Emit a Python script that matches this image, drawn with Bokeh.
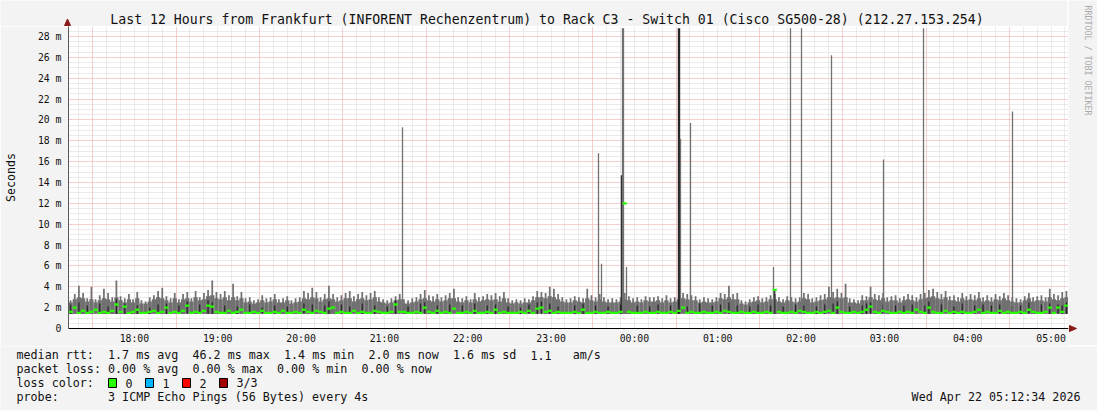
import re
import numpy as np
import pandas as pd
from bokeh.plotting import figure
from bokeh.layouts import column, row
from bokeh.models import (FixedTicker, Grid, Range1d, ColumnDataSource,
                          DatetimeTickFormatter)
from bokeh.core.properties import value
from bokeh.embed import file_html
from bokeh.resources import INLINE

# ------------------------------------------------------------------ data
window_start = "2026-04-21 17:12:34"
window_end = "2026-04-22 05:12:34"
step_seconds = 180  # one value per 3 minutes, 240 steps

smoke_min = [
    1.40,1.38,1.41,1.40,1.39,1.40,1.42,1.38,1.40,1.41,1.39,1.40,1.38,1.40,1.41,1.39,1.40,1.42,1.38,1.40,
    1.41,1.39,1.40,1.38,1.40,1.42,1.39,1.40,1.41,1.38,1.40,1.39,1.41,1.40,1.38,1.40,1.42,1.39,1.40,1.41,
    1.39,1.40,1.41,1.38,1.40,1.39,1.42,1.40,1.38,1.41,1.40,1.39,1.40,1.42,1.38,1.40,1.41,1.39,1.40,1.38,
    1.40,1.42,1.39,1.40,1.38,1.41,1.40,1.39,1.42,1.40,1.38,1.40,1.41,1.39,1.40,1.38,1.42,1.40,1.39,1.41,
    1.38,1.40,1.41,1.39,1.40,1.42,1.38,1.40,1.39,1.41,1.40,1.38,1.42,1.40,1.39,1.40,1.41,1.38,1.40,1.39,
    1.41,1.39,1.40,1.42,1.38,1.40,1.41,1.39,1.40,1.38,1.42,1.40,1.39,1.41,1.40,1.38,1.40,1.42,1.39,1.40,
    1.40,1.38,1.42,1.40,1.39,1.41,1.40,1.38,1.40,1.42,1.39,1.40,1.41,1.38,1.40,1.39,1.42,1.40,1.38,1.41,
    1.39,1.41,1.40,1.38,1.42,1.40,1.39,1.41,1.40,1.38,1.40,1.42,1.39,1.40,1.41,1.38,1.40,1.39,1.42,1.40,
    1.42,1.40,1.38,1.41,1.39,1.40,1.42,1.38,1.40,1.39,1.41,1.40,1.38,1.42,1.40,1.39,1.41,1.40,1.38,1.40,
    1.40,1.39,1.41,1.40,1.38,1.42,1.40,1.39,1.41,1.40,1.38,1.40,1.42,1.39,1.40,1.41,1.38,1.40,1.39,1.42,
    1.38,1.41,1.40,1.39,1.42,1.40,1.38,1.41,1.39,1.40,1.42,1.38,1.40,1.41,1.39,1.40,1.38,1.42,1.40,1.39,
    1.41,1.40,1.38,1.42,1.40,1.39,1.41,1.40,1.38,1.40,1.42,1.39,1.40,1.38,1.41,1.40,1.39,1.42,1.40,1.38,
]

smoke_body = [
    2.5,2.8,3.0,2.9,2.6,2.8,2.5,2.7,2.9,2.8,2.6,3.0,2.7,2.5,2.8,2.5,2.9,2.4,2.4,2.6,
    2.8,3.0,2.9,2.7,2.5,2.9,2.5,2.8,2.9,2.6,3.0,2.7,2.8,3.1,3.2,2.9,2.8,3.0,2.7,3.0,
    2.7,2.9,2.5,2.6,2.4,2.5,2.7,2.5,2.6,2.8,2.5,2.5,2.7,2.4,2.5,2.6,2.9,2.8,3.0,2.9,
    2.6,2.8,2.9,2.8,2.6,2.7,2.9,2.9,2.6,2.8,2.9,2.7,2.8,3.0,2.6,2.5,2.4,2.5,2.7,2.8,
    2.4,2.4,2.5,2.6,2.8,2.9,2.7,2.6,2.8,2.6,2.7,2.9,2.9,2.6,2.5,2.7,2.5,2.8,2.6,2.7,
    2.8,2.7,2.8,2.6,2.9,2.5,2.4,2.5,2.4,2.5,2.5,2.7,3.0,3.0,2.9,3.1,3.0,2.8,2.6,2.5,
    2.5,2.7,2.6,2.5,2.9,2.7,2.6,2.8,2.6,2.5,2.5,2.5,2.6,2.8,2.7,2.5,2.6,2.5,2.7,2.6,
    2.6,2.7,2.5,2.7,2.5,2.6,2.8,2.9,2.8,2.7,2.7,2.5,2.6,2.5,2.5,2.6,2.9,2.8,3.0,2.8,
    2.8,2.4,2.3,2.5,2.6,2.7,2.5,2.6,2.8,2.8,2.6,2.5,2.7,2.6,2.5,2.6,2.9,2.8,2.5,2.6,
    2.7,2.8,3.0,2.9,3.0,2.9,3.0,2.5,2.5,2.4,2.7,2.7,3.0,2.8,2.7,2.9,2.6,2.7,2.7,2.5,
    2.7,2.8,2.7,2.6,2.8,2.9,3.0,3.1,2.9,2.8,3.0,2.7,2.7,2.6,2.9,2.7,2.8,2.7,2.9,2.6,
    2.7,2.6,2.8,2.7,2.9,2.7,2.6,2.5,2.5,2.7,2.9,2.6,2.7,2.7,2.6,3.0,2.8,2.7,2.9,3.0,
]

smoke_peak = [
    2.7,3.3,4.1,3.4,2.9,4.0,2.8,3.2,3.8,3.4,3.0,4.6,3.1,2.9,3.3,2.8,3.5,2.7,2.6,3.0,
    3.2,3.6,3.9,3.1,2.9,3.4,2.8,3.3,3.5,2.9,3.6,3.0,3.4,3.7,4.6,3.5,3.3,3.6,3.2,4.3,
    3.1,3.5,2.9,3.0,2.7,2.8,3.2,2.9,3.0,3.3,2.8,2.9,3.1,2.7,2.9,3.0,3.6,3.4,3.9,3.5,
    3.0,3.3,4.1,3.3,3.0,3.2,3.4,3.6,3.1,3.3,3.5,3.2,3.4,3.6,3.0,2.8,2.7,2.9,3.1,3.3,
    2.8,2.7,2.9,3.0,3.3,3.7,3.2,3.1,3.3,3.0,3.2,3.4,3.8,3.0,2.9,3.1,2.8,3.4,3.0,3.1,
    3.3,3.2,3.4,3.1,3.5,2.9,2.7,2.8,2.7,2.9,2.8,3.1,3.6,3.5,3.4,4.0,3.8,3.3,3.0,2.8,
    2.9,3.1,3.0,2.9,3.8,3.2,3.0,3.3,3.0,2.8,2.9,2.8,3.0,3.4,3.1,2.9,3.0,2.8,3.1,3.0,
    3.0,3.1,2.9,3.2,2.9,3.0,3.3,3.4,3.3,3.2,3.1,2.8,3.0,2.9,2.8,3.0,3.4,3.3,4.1,3.3,
    3.4,2.7,2.6,2.8,3.0,3.1,2.9,3.0,3.2,3.3,3.0,2.8,3.1,3.0,2.9,3.0,3.4,3.3,2.9,3.0,
    3.2,3.3,4.0,3.5,3.8,3.4,4.3,2.9,2.8,2.7,3.2,3.1,4.0,3.3,3.2,3.4,3.0,3.1,3.2,2.9,
    3.1,3.3,3.2,3.0,3.3,3.4,3.7,3.8,3.5,3.3,3.6,3.1,3.2,3.0,3.4,3.1,3.3,3.2,3.5,3.0,
    3.2,3.0,3.3,3.1,3.4,3.2,3.0,2.9,2.8,3.1,3.4,3.0,3.1,3.2,3.0,3.8,3.3,3.2,3.5,3.6,
]

smoke_dark = [
    2.3,0,2.5,0,2.2,0,0,2.4,0,2.1,0,2.8,0,2.4,0,0,2.2,0,0,2.0,
    0,2.3,0,2.4,0,0,2.2,0,2.6,0,0,2.3,0,2.7,2.5,0,0,2.2,0,0,
    2.1,0,0,2.3,0,0,2.0,0,0,2.2,0,0,2.1,0,0,0,2.4,0,2.3,0,
    0,2.2,2.6,0,0,2.3,0,2.1,0,0,2.4,0,0,2.2,0,0,2.1,0,2.7,0,
    0,2.1,0,0,2.4,2.5,0,0,2.2,0,0,2.3,0,0,2.2,0,0,2.4,0,0,
    2.2,0,2.3,0,0,2.1,0,0,2.0,0,2.3,0,2.5,2.6,0,2.4,0,2.1,0,0,
    0,2.2,0,2.4,0,0,2.2,0,0,2.1,0,0,2.3,0,0,0,2.2,0,0,2.1,
    0,2.3,0,0,2.2,0,0,0,2.1,0,0,2.4,0,0,2.2,0,2.3,0,2.5,0,
    2.2,0,0,2.1,0,2.3,0,0,2.2,3.7,0,2.1,0,0,2.3,0,2.2,0,0,2.1,
    0,2.3,0,2.4,2.6,0,0,2.1,0,0,2.2,2.4,2.5,0,0,2.3,0,0,2.2,0,
    2.2,0,2.3,0,0,2.2,2.6,0,0,2.3,0,0,2.1,0,2.4,0,0,2.2,0,2.3,
    0,2.2,0,2.3,0,0,2.1,0,2.2,0,2.5,0,0,2.3,0,2.4,0,2.3,2.2,2.5,
]

median_rtt = [
    1.6,2.0,1.5,1.7,1.5,1.6,1.8,1.5,1.6,1.5,1.7,2.3,1.6,2.1,1.5,1.6,1.8,1.5,1.5,1.6,
    1.7,1.5,1.6,2.0,1.5,1.6,1.5,1.7,2.2,1.5,1.6,1.5,1.7,2.2,2.1,1.6,1.5,1.5,1.7,1.5,
    1.6,1.8,1.5,1.5,1.6,1.5,1.7,1.5,1.5,1.6,1.5,1.7,1.5,1.5,1.6,1.5,1.8,1.6,1.5,1.7,
    1.6,1.5,1.9,2.0,1.5,1.6,1.5,1.5,1.7,1.5,1.6,1.5,1.5,1.7,1.6,1.5,1.5,1.6,2.3,1.6,
    1.6,1.5,1.5,1.6,1.5,2.0,1.6,1.5,1.7,1.5,1.6,1.5,1.9,1.5,1.5,1.6,1.5,1.7,1.5,1.5,
    1.6,1.5,1.8,1.5,1.6,1.5,1.5,1.5,1.6,1.5,1.7,1.5,1.9,2.0,1.6,1.7,1.5,1.6,1.5,1.5,
    1.5,1.6,1.5,1.8,1.5,1.5,1.6,1.5,1.5,1.6,1.5,1.5,1.6,12.0,1.6,1.5,1.5,1.5,1.6,1.5,
    1.5,1.6,1.5,1.5,1.6,1.5,1.7,2.0,1.5,1.6,1.5,1.5,1.6,1.5,1.5,1.6,1.5,1.7,1.6,1.5,
    1.5,1.6,1.5,1.5,1.6,1.5,1.5,1.6,1.5,3.7,1.6,1.5,1.5,1.6,1.5,1.7,1.6,1.5,1.5,1.6,
    1.5,1.6,1.7,1.5,2.0,1.6,1.5,1.5,1.6,1.5,1.6,1.8,2.1,1.6,1.5,1.7,1.6,1.5,1.5,1.6,
    1.5,1.6,1.5,1.8,1.6,1.5,2.0,1.6,1.5,1.5,1.7,1.5,1.6,1.5,1.6,1.5,1.5,1.6,1.8,1.5,
    1.6,1.5,1.5,1.7,1.5,1.6,1.5,1.5,1.6,1.5,1.8,1.6,1.5,1.5,1.6,2.0,1.5,2.0,1.6,2.2,
]

# isolated latency spikes
spike_times = [
    "2026-04-21 21:13:03", "2026-04-21 23:34:10", "2026-04-21 23:36:20",
    "2026-04-21 23:51:05", "2026-04-21 23:51:27", "2026-04-21 23:52:10",
    "2026-04-21 23:54:20", "2026-04-22 00:32:08", "2026-04-22 00:33:12",
    "2026-04-22 00:40:24", "2026-04-22 01:40:10", "2026-04-22 01:52:24",
    "2026-04-22 02:00:20", "2026-04-22 02:21:56", "2026-04-22 02:59:22",
    "2026-04-22 03:28:10", "2026-04-22 04:32:15",
]
spike_tops = [19.3, 16.8, 6.2, 14.7, 28.8, 28.8, 5.9, 28.8, 18.2,
              19.7, 5.9, 28.8, 28.8, 26.2, 16.2, 28.8, 20.8]
spike_dark = [False, False, False, True, False, False, False, True, False,
              False, False, False, False, False, False, False, False]

hour_labels = ["18:00", "19:00", "20:00", "21:00", "22:00", "23:00",
               "00:00", "01:00", "02:00", "03:00", "04:00", "05:00"]
y_tick_values = [0, 2, 4, 6, 8, 10, 12, 14, 16, 18, 20, 22, 24, 26, 28]
y_tick_labels = ["0", "2 m", "4 m", "6 m", "8 m", "10 m", "12 m", "14 m",
                 "16 m", "18 m", "20 m", "22 m", "24 m", "26 m", "28 m"]

title_text = ("Last 12 Hours from Frankfurt (INFORENT Rechenzentrum) to Rack C3 - "
              "Switch 01 (Cisco SG500-28) (212.27.153.254)")
y_title = "Seconds"
credit_text = "RRDTOOL / TOBI OETIKER"
median_line = "median rtt:  1.7 ms avg  46.2 ms max  1.4 ms min  2.0 ms now  1.6 ms sd  1.1   am/s"
loss_line = "packet loss: 0.00 % avg  0.00 % max  0.00 % min  0.00 % now"
loss_title = "loss color:"
probe_line = "probe:       3 ICMP Echo Pings (56 Bytes) every 4s"
timestamp_text = "Wed Apr 22 05:12:34 2026"
loss_levels = ["0", "1", "2", "3/3"]
loss_colors = ["#26ff00", "#00b8ff", "#ff0000", "#a00000"]

assert all(len(a) == 240 for a in (smoke_min, smoke_body, smoke_peak, smoke_dark, median_rtt))

# ------------------------------------------------------------------ layout
MONO = "DejaVu Sans Mono"
BG = "#f3f3f3"
ARROW = "#8b1a1a"
TXT = "#111111"
W, H = 1097, 410
FRAME_L, FRAME_T, FRAME_W, FRAME_H = 67, 26, 1000, 302
FRAME_B = FRAME_T + FRAME_H          # 328
MAIN_BOTTOM = 17                      # room for time labels
TOP_H = FRAME_T
MID_H = FRAME_H + MAIN_BOTTOM         # 319
LEFT_W = FRAME_L + FRAME_W            # 1067
Y_MAX = 28.96
CHAR_W = 7.04                         # advance of an 11.7px DejaVu Sans Mono glyph


def ms(ts):
    return pd.Timestamp(ts).value / 1e6


t0, t1 = ms(window_start), ms(window_end)


def pixel_fig(x0, x1, y0, y1):
    """A figure whose frame fills it, in page-pixel coordinates (y down)."""
    f = figure(width=x1 - x0, height=y1 - y0, x_range=Range1d(x0, x1),
               y_range=Range1d(y1, y0), x_axis_type=None, y_axis_type=None,
               output_backend="svg", toolbar_location=None, min_border=0,
               background_fill_color=BG, border_fill_color=BG)
    f.outline_line_color = None
    f.grid.visible = False
    return f


def txt(f, x, y, s, size="11.7px", align="left", color=TXT, angle=0.0, font=MONO):
    f.text(x=[x], y=[y], text=[s], text_font=value(font), text_font_size=value(size),
           text_align=align, text_baseline="middle", text_color=color, angle=angle)


def mono_line(f, x, y, s):
    """Monospace line: runs of several spaces are kept by placing each word group at its column."""
    for m in re.finditer(r"\S+(?: \S+)*", s):
        txt(f, x + m.start() * CHAR_W, y, m.group())


# ---------------- main chart
n = len(median_rtt)
step_ms = step_seconds * 1000
centers = t0 + (np.arange(n) + 0.5) * step_ms

src = ColumnDataSource(dict(
    x=centers, lo=smoke_min, body=smoke_body, peak=smoke_peak,
    med_lo=[m - 0.11 for m in median_rtt], med_hi=[m + 0.11 for m in median_rtt],
))
dark_idx = [i for i, d in enumerate(smoke_dark) if d > 0]
dark_src = ColumnDataSource(dict(
    x=[centers[i] for i in dark_idx], lo=[smoke_min[i] for i in dark_idx],
    hi=[smoke_dark[i] for i in dark_idx]))

sp_x = [ms(t) for t in spike_times]
sp_lo = [smoke_min[min(n - 1, int((x - t0) // step_ms))] for x in sp_x]

p = figure(frame_width=FRAME_W, frame_height=FRAME_H,
           min_border_left=FRAME_L, min_border_top=0,
           min_border_right=0, min_border_bottom=MAIN_BOTTOM,
           x_range=Range1d(t0, t1), y_range=Range1d(0, Y_MAX),
           x_axis_type="datetime", output_backend="svg", toolbar_location=None,
           background_fill_color="white", border_fill_color=BG)
p.outline_line_color = None
p.xgrid.visible = False
p.ygrid.visible = False

ten_min = np.arange(ms("2026-04-21 17:20"), t1, 600000.0)
half_hours = np.arange(ms("2026-04-21 17:30"), t1, 3600000.0)
GRID_GRAY, GRID_RED = "#d6d6d6", "#ffb0b0"
p.add_layout(Grid(dimension=0, ticker=FixedTicker(ticks=list(ten_min)),
                  grid_line_color=GRID_GRAY, grid_line_dash="1 1"))
p.add_layout(Grid(dimension=1, ticker=FixedTicker(ticks=list(np.arange(0.5, 29, 0.5))),
                  grid_line_color=GRID_GRAY, grid_line_dash="1 1"))
p.add_layout(Grid(dimension=0, ticker=FixedTicker(ticks=list(half_hours)),
                  grid_line_color=GRID_RED, grid_line_dash="1 1"))
p.add_layout(Grid(dimension=1, ticker=FixedTicker(ticks=y_tick_values[1:]),
                  grid_line_color=GRID_RED, grid_line_dash="1 1"))

SMOKE = "#717171"
DARK = "#262626"
p.vbar(x="x", width=step_ms * 1.02, bottom="lo", top="body", source=src,
       fill_color=SMOKE, line_color=None)
p.vbar(x="x", width=step_ms * 0.42, bottom="lo", top="peak", source=src,
       fill_color=SMOKE, line_color=None)
p.vbar(x="x", width=step_ms * 0.3, bottom="lo", top="hi", source=dark_src,
       fill_color=DARK, line_color=None)
sp_src = ColumnDataSource(dict(
    x=sp_x, lo=sp_lo, hi=spike_tops,
    color=[DARK if d else SMOKE for d in spike_dark],
    w=[2.4 if d else 1.3 for d in spike_dark]))
p.segment(x0="x", x1="x", y0="lo", y1="hi", line_color="color", line_width="w",
          source=sp_src)
p.vbar(x="x", width=step_ms, bottom="med_lo", top="med_hi", source=src,
       fill_color=loss_colors[0], line_color=None)

hour_ms = [ms(s) for s in pd.date_range("2026-04-21 18:00", periods=len(hour_labels), freq="h")]
p.xaxis.ticker = FixedTicker(ticks=hour_ms)
fmt = "%H:%M"
p.xaxis.formatter = DatetimeTickFormatter(hours=fmt, hourmin=fmt, minutes=fmt, minsec=fmt,
                                          days=fmt, seconds=fmt, milliseconds=fmt)
p.yaxis.ticker = FixedTicker(ticks=y_tick_values)
p.yaxis.major_label_overrides = dict(zip(y_tick_values, y_tick_labels))
for ax in (p.xaxis[0], p.yaxis[0]):
    ax.major_tick_line_color = None
    ax.minor_tick_line_color = None
    ax.major_tick_out = 0
    ax.major_tick_in = 0
    ax.major_label_text_font = MONO
    ax.major_label_text_font_size = "9.8px"
    ax.major_label_text_color = TXT
p.xaxis.axis_line_color = "black"
p.yaxis.axis_line_color = "#5a5a5a"
p.xaxis.major_label_standoff = 4
p.yaxis.major_label_standoff = 7
p.yaxis.axis_label = y_title
p.yaxis.axis_label_text_font = MONO
p.yaxis.axis_label_text_font_size = "11.6px"
p.yaxis.axis_label_text_font_style = "normal"
p.yaxis.axis_label_text_color = TXT
p.yaxis.axis_label_standoff = 17

# ---------------- title strip (above the chart)
top = pixel_fig(0, LEFT_W, 0, TOP_H)
txt(top, 546.5, 19.2, title_text, size="13.2px", align="center")
top.segment(x0=[FRAME_L], x1=[FRAME_L], y0=[21], y1=[TOP_H], line_color="#5a5a5a", line_width=1)
top.patch(x=[FRAME_L - 3, FRAME_L, FRAME_L + 3], y=[25, 18.5, 25], fill_color=ARROW,
          line_color=ARROW)

# ---------------- right strip (credit + x arrow)
strip = pixel_fig(LEFT_W, W, 0, TOP_H + MID_H)
txt(strip, 1086, 60, credit_text, size="8.3px", align="center", color="#aaaaaa",
    angle=-np.pi / 2)
strip.segment(x0=[LEFT_W], x1=[1070], y0=[FRAME_B], y1=[FRAME_B], line_color="black")
strip.patch(x=[1068, 1075, 1068], y=[FRAME_B - 3, FRAME_B, FRAME_B + 3],
            fill_color=ARROW, line_color=ARROW)

# ---------------- legend strip (below)
Y0 = TOP_H + MID_H
bot = pixel_fig(0, W, Y0, H)
rows_y = [353.5, 367.7, 381.7, 395.8]
mono_line(bot, 16, rows_y[0], median_line)
mono_line(bot, 16, rows_y[1], loss_line)
mono_line(bot, 16, rows_y[2], loss_title)
mono_line(bot, 16, rows_y[3], probe_line)
txt(bot, 1080, rows_y[3], timestamp_text, align="right")
box_left = [108, 145, 182, 219]
text_left = [125, 162, 199, 236]
bot.quad(left=box_left, right=[b + 8 for b in box_left], top=[377] * 4, bottom=[386] * 4,
         fill_color=loss_colors, line_color="black", line_width=1)
for tl, lvl in zip(text_left, loss_levels):
    txt(bot, tl, rows_y[2], lvl)

# the title strip is wrapped in its own row so its frame is not aligned to the chart frame
layout = column(row(column(row(top), p, spacing=0), strip, spacing=0), bot, spacing=0)

open("out.html", "w").write(file_html(layout, INLINE))
